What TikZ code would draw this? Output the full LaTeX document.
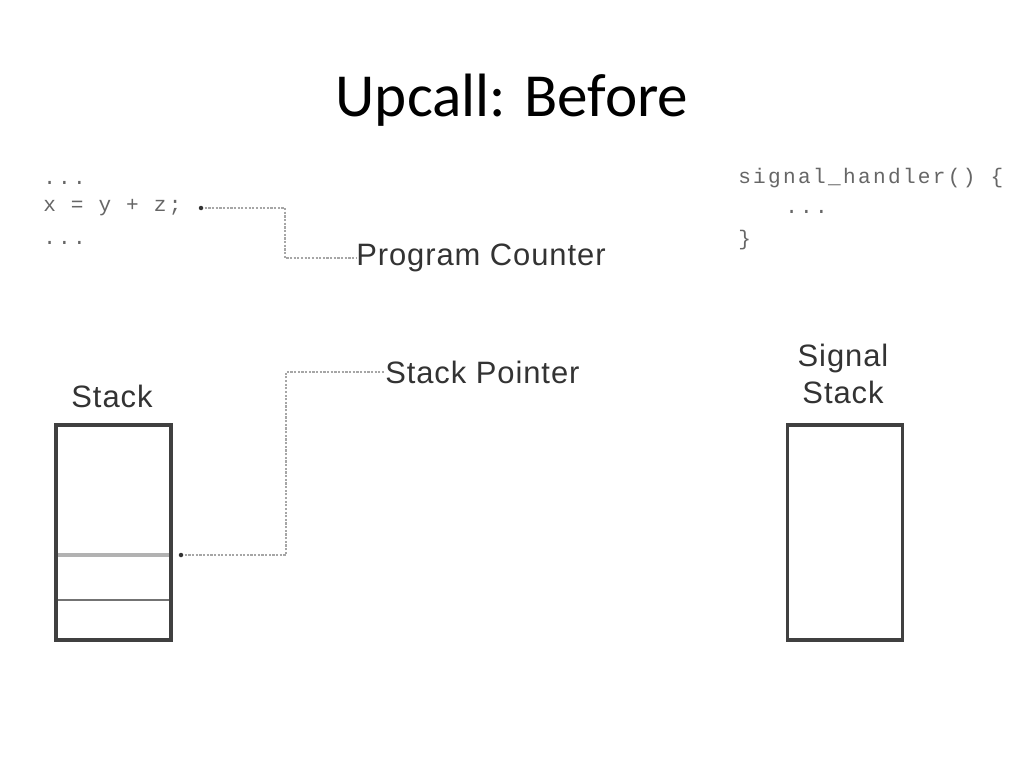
\documentclass[tikz,border=0pt]{standalone}
\usepackage{fontspec}
\setmainfont{Carlito}
\setsansfont{Liberation Sans}[LetterSpace=3]
\setmonofont{Liberation Mono}[LetterSpace=11]
\usetikzlibrary{positioning}

\begin{document}
\begin{tikzpicture}[
  x=0.025cm, y=-0.025cm,
  every node/.style={inner sep=0pt},
  code/.style={font=\ttfamily\fontsize{15}{18}\selectfont, anchor=west, text=black!60},
  label/.style={font=\sffamily\fontsize{22}{26}\selectfont, text=black!80},
  pointer/.style={draw=black!35, densely dotted, line width=1.6pt},
  stackbox/.style={draw=black!75, line width=2.4pt, minimum width=2.875cm, minimum height=5.375cm}
]
\useasboundingbox (0,0) rectangle (1024,768);

% title
\node[font=\fontsize{43.5}{52}\selectfont] (title) at (512,100) {Upcall: Before};

% user code
\node[code] (codeA) at (43,183) {...};
\node[code] (codeB) at (43,208) {x = y + z;};
\node[code] (codeC) at (43,243) {...};

% signal handler code
\node[code] (sigA) at (738,178) {signal\_handler() \{};
\node[code] (sigB) at (785,212) {...};
\node[code] (sigC) at (738,240) {\}};

% labels
\node[label, anchor=west] (pc) at (356,258) {Program Counter};
\node[label, anchor=west] (sp) at (385,372) {Stack Pointer};
\node[label] (stacklbl) at (112,396) {Stack};
\node[label, align=center] (sigstacklbl) at (843,374) {Signal\\Stack};

% stacks
\node[stackbox] (stack) at (113.5,532.5) {};
\node[stackbox] (sigstack) at (845,532.5) {};
\draw[black!30, line width=2.5pt] (58,555) -- (169,555);
\draw[black!55, line width=1.6pt] (58,600) -- (169,600);

% pointers
\coordinate (pcdot) at (201,208);
\coordinate (spdot) at (181,555);
\draw[pointer] (pcdot) -- (285,208) |- (pc.west);
\draw[pointer] (spdot) -- (286,555) |- (sp.west);
\fill[black!80] (pcdot) circle[radius=1.6pt];
\fill[black!80] (spdot) circle[radius=1.6pt];
\end{tikzpicture}
\end{document}
